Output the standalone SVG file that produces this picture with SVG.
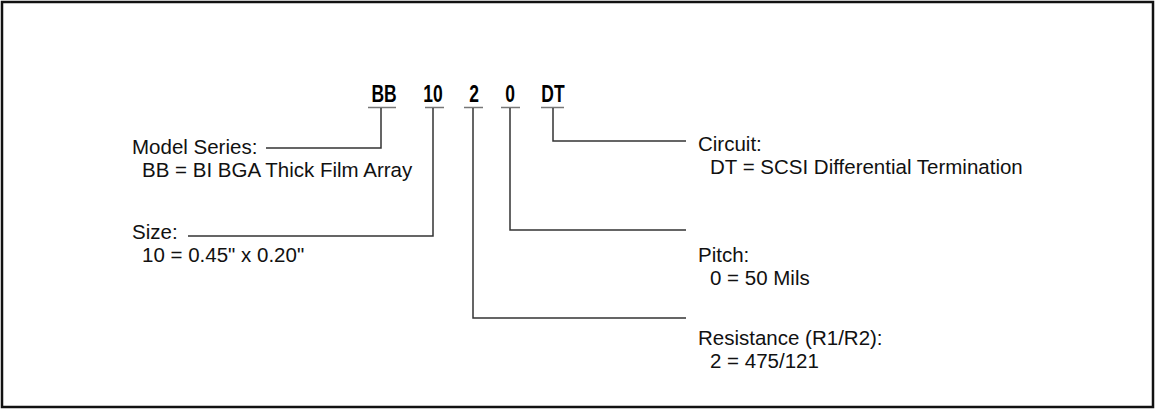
<svg xmlns="http://www.w3.org/2000/svg" width="1156" height="409" viewBox="0 0 1156 409">
<style>
.code{font-family:"Liberation Sans",Arial,sans-serif;font-weight:bold;font-size:23px;fill:#000;text-anchor:middle}
.lbl{font-family:"Liberation Sans",Arial,sans-serif;font-size:20.5px;fill:#111}
.ul{stroke:#777;stroke-width:1.5;fill:none}
.ln{stroke:#333;stroke-width:1.5;fill:none}
</style>
<rect x="2" y="2" width="1151" height="405" fill="#fff" stroke="#111" stroke-width="2.5"/>
<g id="code">
<text class="code" transform="translate(384 102) scale(0.76 1)">BB</text>
<text class="code" transform="translate(433 102) scale(0.76 1)">10</text>
<text class="code" transform="translate(474 102) scale(0.76 1)">2</text>
<text class="code" transform="translate(510 102) scale(0.76 1)">0</text>
<text class="code" transform="translate(553 102) scale(0.76 1)">DT</text>
<path class="ul" d="M368 107.5H396M425 107.5H444M464 107.5H483M501 107.5H520M541 107.5H564"/>
</g>
<g id="connectors">
<path class="ln" d="M381 108V148H266"/>
<path class="ln" d="M433 108V236H188"/>
<path class="ln" d="M473 108V318H686"/>
<path class="ln" d="M510 108V230H686"/>
<path class="ln" d="M553 108V141H686"/>
</g>
<g id="model"><text class="lbl" x="132" y="154">Model Series:</text><text class="lbl" x="142" y="177">BB = BI BGA Thick Film Array</text></g>
<g id="size"><text class="lbl" x="132" y="239">Size:</text><text class="lbl" x="142" y="262">10 = 0.45" x 0.20"</text></g>
<g id="circuit"><text class="lbl" x="698" y="151">Circuit:</text><text class="lbl" x="710" y="174">DT = SCSI Differential Termination</text></g>
<g id="pitch"><text class="lbl" x="698" y="262">Pitch:</text><text class="lbl" x="710" y="285">0 = 50 Mils</text></g>
<g id="resistance"><text class="lbl" x="698" y="345">Resistance (R1/R2):</text><text class="lbl" x="710" y="368">2 = 475/121</text></g>
</svg>
